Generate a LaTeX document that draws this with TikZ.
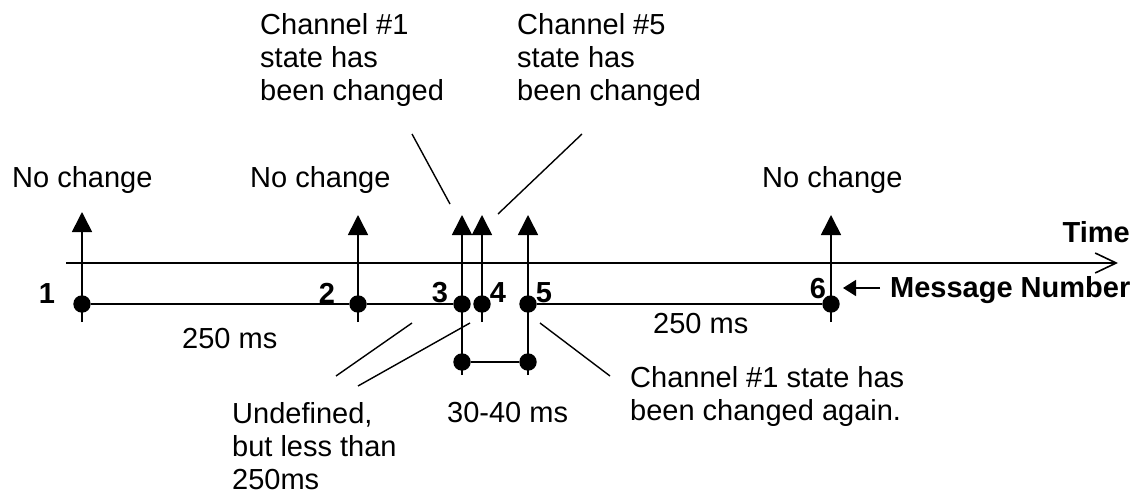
\documentclass[tikz,border=0pt]{standalone}
\usepackage{fontspec}
\setmainfont{Liberation Sans}
\usetikzlibrary{arrows.meta}
\begin{document}
\begin{tikzpicture}[x=1pt,y=-1pt,
  ln/.style={line width=1.6pt},
  dot/.style={circle,fill=black,inner sep=0pt,minimum size=17.4pt},
  lbl/.style={font=\fontsize{29}{33}\selectfont,inner sep=0pt,align=left,anchor=base west},
  num/.style={font=\fontsize{29}{33}\selectfont\bfseries,inner sep=0pt,anchor=base},
  up/.style={ln,-{Triangle[length=20pt,width=20pt]}},
  leader/.style={line width=1.4pt},
]
\useasboundingbox (0,0) rectangle (1138,495);

% time axis
\coordinate (ax0) at (66,263);
\coordinate (ax1) at (1118,263);
\draw[ln,-{Straight Barb[length=21pt,width=20pt]}] (ax0) -- (ax1);

% vertical event lines with arrowheads
\foreach \n/\x/\t/\b in {1/82/212/322, 2/358/215/322, 3/462/215/375, 4/482/215/322, 5/528/215/375, 6/831/215/322}{
  \coordinate (t\n) at (\x,\t);
  \coordinate (b\n) at (\x,\b);
  \draw[up] (b\n) -- (t\n);
}

% dots on message line
\node[dot] (d1) at (82,304) {};
\node[dot] (d2) at (358,304) {};
\node[dot] (d3) at (462,304) {};
\node[dot] (d4) at (482,304) {};
\node[dot] (d5) at (528,304) {};
\node[dot] (d6) at (831,304) {};
\draw[ln] (d1) -- (d2);
\draw[ln] (d2) -- (d3);
\draw[ln] (d5) -- (d6);

% 30-40 ms bracket
\node[dot] (e3) at (462,362) {};
\node[dot] (e5) at (528,362) {};
\draw[ln] (e3) -- (e5);

% numbers
\node[num] (n1) at (47,303) {1};
\node[num] (n2) at (327,303) {2};
\node[num] (n3) at (440,302) {3};
\node[num] (n4) at (498,302) {4};
\node[num] (n5) at (544,302) {5};
\node[num] (n6) at (818,298) {6};

\node[num,anchor=base west] (msg) at (890,297) {Message Number};
\coordinate (ma0) at (880,288);
\coordinate (ma1) at (843,288);
\draw[ln,-{Triangle[length=13pt,width=16pt]}] (ma0) -- (ma1);

\node[num,anchor=base east] (time) at (1130,242) {Time};

% top labels
\node[lbl] (nc1) at (12,187) {No change};
\node[lbl] (nc2) at (250,187) {No change};
\node[lbl] (nc3) at (762,187) {No change};
\node[lbl] (ch1) at (260,100) {Channel \#1\\state has\\been changed};
\node[lbl] (ch5) at (517,100) {Channel \#5\\state has\\been changed};

% bottom labels
\node[lbl] (ms1) at (182,348) {250 ms};
\node[lbl] (ms2) at (653,333) {250 ms};
\node[lbl] (ms3) at (447,422) {30-40 ms};
\node[lbl] (und) at (232,489) {Undefined,\\but less than\\250ms};
\node[lbl] (cha) at (630,420) {Channel \#1 state has\\been changed again.};

% leader lines
\coordinate (l1a) at (412,134); \coordinate (l1b) at (450,204);
\coordinate (l2a) at (582,134); \coordinate (l2b) at (498,214);
\coordinate (l3a) at (412,323); \coordinate (l3b) at (336,376);
\coordinate (l4a) at (470,323); \coordinate (l4b) at (358,386);
\coordinate (l5a) at (540,323); \coordinate (l5b) at (610,376);
\draw[leader] (l1a) -- (l1b);
\draw[leader] (l2a) -- (l2b);
\draw[leader] (l3a) -- (l3b);
\draw[leader] (l4a) -- (l4b);
\draw[leader] (l5a) -- (l5b);
\end{tikzpicture}
\end{document}
